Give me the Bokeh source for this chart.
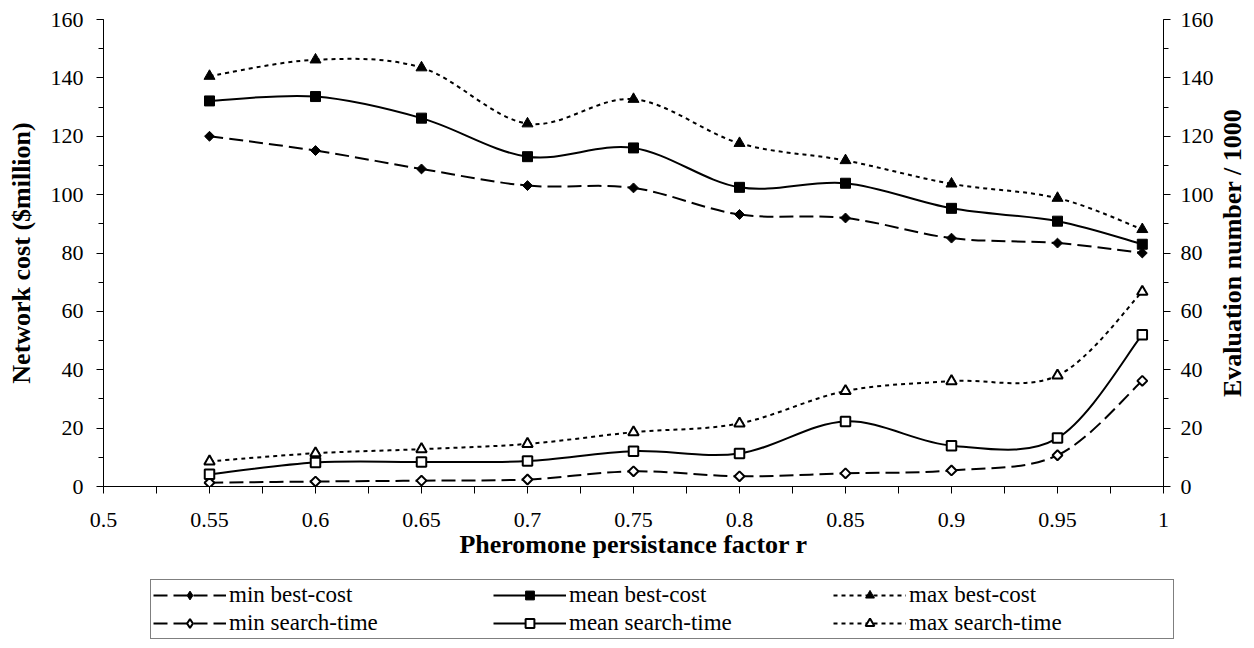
import numpy as np
from bokeh.plotting import figure
from bokeh.layouts import column, row
from bokeh.models import (LinearAxis, SingleIntervalTicker, FixedTicker, Legend, LegendItem,
                          ColumnDataSource, Range1d, Label)
from bokeh.embed import file_html
from bokeh.resources import INLINE

# ---------------- data ----------------
r_values = [0.55, 0.6, 0.65, 0.7, 0.75, 0.8, 0.85, 0.9, 0.95, 0.99]

min_best_cost = [120.0, 115.1, 108.8, 103.1, 102.3, 93.2, 92.0, 85.1, 83.4, 80.0]
mean_best_cost = [132.1, 133.6, 126.2, 113.0, 116.0, 102.5, 103.9, 95.3, 90.9, 83.0]
max_best_cost = [140.6, 146.2, 143.5, 124.3, 132.7, 117.6, 111.7, 103.7, 98.8, 88.1]

min_search_time = [1.3, 1.7, 2.0, 2.4, 5.2, 3.5, 4.5, 5.5, 10.7, 36.2]
mean_search_time = [4.2, 8.2, 8.4, 8.7, 12.1, 11.3, 22.3, 14.0, 16.6, 52.0]
max_search_time = [8.6, 11.4, 12.8, 14.6, 18.6, 21.6, 32.7, 36.1, 38.0, 66.7]

x_tick_values = [0.5, 0.55, 0.6, 0.65, 0.7, 0.75, 0.8, 0.85, 0.9, 0.95, 1.0]
x_tick_labels = ["0.5", "0.55", "0.6", "0.65", "0.7", "0.75", "0.8", "0.85", "0.9", "0.95", "1"]

series_names = ["min best-cost", "mean best-cost", "max best-cost",
                "min search-time", "mean search-time", "max search-time"]

x_title = "Pheromone persistance factor r"
y_title = "Network cost ($million)"
y2_title = "Evaluation number / 1000"

FONT = "Liberation Serif"


def smooth_segments(xs, ys):
    """Catmull-Rom style bezier control points (Excel-like smoothing)."""
    xs = np.asarray(xs, float)
    ys = np.asarray(ys, float)
    n = len(xs)
    xp = np.concatenate([[xs[0]], xs, [xs[-1]]])
    yp = np.concatenate([[ys[0]], ys, [ys[-1]]])
    d = dict(x0=[], y0=[], x1=[], y1=[], cx0=[], cy0=[], cx1=[], cy1=[])
    for i in range(n - 1):
        j = i + 1
        d["x0"].append(xp[j]); d["y0"].append(yp[j])
        d["x1"].append(xp[j + 1]); d["y1"].append(yp[j + 1])
        d["cx0"].append(xp[j] + (xp[j + 1] - xp[j - 1]) / 6.0)
        d["cy0"].append(yp[j] + (yp[j + 1] - yp[j - 1]) / 6.0)
        d["cx1"].append(xp[j + 1] - (xp[j + 2] - xp[j]) / 6.0)
        d["cy1"].append(yp[j + 1] - (yp[j + 2] - yp[j]) / 6.0)
    return ColumnDataSource(d)


def bare(fig):
    fig.outline_line_color = None
    fig.background_fill_color = "white"
    fig.border_fill_color = "white"


# ---------------- main plot ----------------
p = figure(width=1218, height=576, output_backend="svg", toolbar_location=None,
           x_range=Range1d(0.5, 1.0), y_range=Range1d(0, 160),
           min_border_left=103, min_border_right=55, min_border_top=19, min_border_bottom=90)
bare(p)
p.xgrid.grid_line_color = None
p.ygrid.grid_line_color = None


def style_axis(ax):
    ax.axis_line_color = "black"
    ax.axis_line_width = 1
    ax.major_tick_line_color = "black"
    ax.minor_tick_line_color = "black"
    ax.major_tick_in = 0
    ax.minor_tick_in = 0
    ax.major_label_text_font = FONT
    ax.major_label_text_font_size = "22px"
    ax.major_label_text_color = "black"
    ax.axis_label_text_font = FONT
    ax.axis_label_text_font_size = "26px"
    ax.axis_label_text_font_style = "bold"
    ax.axis_label_text_color = "black"


xa = p.xaxis[0]
xa.ticker = FixedTicker(ticks=x_tick_values,
                        minor_ticks=[v + 0.025 for v in x_tick_values[:-1]])
xa.major_label_overrides = {v: s for v, s in zip(x_tick_values, x_tick_labels)}
style_axis(xa)
xa.major_tick_out = 7
xa.minor_tick_out = 7
xa.major_label_standoff = 19
xa.axis_label = x_title
xa.axis_label_standoff = 0

ya = p.yaxis[0]
ya.ticker = SingleIntervalTicker(interval=20, num_minor_ticks=2)
style_axis(ya)
ya.major_tick_out = 7
ya.minor_tick_out = 5
ya.major_label_standoff = 13
ya.axis_label = y_title
ya.axis_label_standoff = 12

ra = LinearAxis(ticker=SingleIntervalTicker(interval=20, num_minor_ticks=2))
style_axis(ra)
ra.major_tick_out = 7
ra.minor_tick_out = 5
ra.major_label_standoff = 10
p.add_layout(ra, "right")

series = [min_best_cost, mean_best_cost, max_best_cost,
          min_search_time, mean_search_time, max_search_time]
dashes = ["14 6", "solid", "4 4", "14 6", "solid", "4 4"]
markers = ["diamond", "square", "triangle", "diamond", "square", "triangle"]
filled = [True, True, True, False, False, False]

# ---------------- legend figure ----------------
lf = figure(width=1254, height=72, output_backend="svg", toolbar_location=None,
            x_range=Range1d(0, 1), y_range=Range1d(0, 1),
            x_axis_type=None, y_axis_type=None, min_border=0)
bare(lf)
lf.xgrid.grid_line_color = None
lf.ygrid.grid_line_color = None

# legend proxy glyphs live outside the visible range of the legend figure
proxy_seg = dict(x0=[-2.0], y0=[-2.0], x1=[-1.5], y1=[-2.0],
                 cx0=[-1.8], cy0=[-2.0], cx1=[-1.7], cy1=[-2.0])

items = []
for name, ys, dash, mk, fl in zip(series_names, series, dashes, markers, filled):
    src = smooth_segments(r_values, ys)
    p.bezier(x0="x0", y0="y0", x1="x1", y1="y1", cx0="cx0", cy0="cy0",
             cx1="cx1", cy1="cy1", source=src, line_color="black",
             line_width=2, line_dash=dash)
    fill = "black" if fl else "white"
    lw = 1 if fl else 2
    if mk == "diamond":
        p.scatter(r_values, ys, marker="square", angle=np.pi / 4, size=7,
                  line_color="black", line_width=lw, fill_color=fill)
        lsize = 10
    elif mk == "square":
        p.scatter(r_values, ys, marker="square", size=10 if fl else 9.5,
                  line_color="black", line_width=lw, fill_color=fill)
        lsize = 8
    else:
        p.scatter(r_values, ys, marker="triangle", size=11 if fl else 10.5,
                  line_color="black", line_width=lw, fill_color=fill)
        lsize = 9
    lln = lf.bezier(x0="x0", y0="y0", x1="x1", y1="y1", cx0="cx0", cy0="cy0",
                    cx1="cx1", cy1="cy1", source=ColumnDataSource(dict(proxy_seg)),
                    line_color="black", line_width=2, line_dash=dash)
    lsc = lf.scatter(x=[-2.0], y=[-2.0], marker=mk, size=lsize, line_color="black",
                     line_width=lw, fill_color=fill)
    items.append(LegendItem(label=name, renderers=[lln, lsc]))

legend = Legend(items=items, orientation="horizontal", ncols=3,
                label_text_font=FONT, label_text_font_size="23px",
                label_text_color="black", glyph_width=73, glyph_height=22,
                label_standoff=3, label_width=262, label_height=22, spacing=2,
                padding=2, margin=0, border_line_color="black", border_line_width=1,
                background_fill_color="white", location=(150, 9))
lf.add_layout(legend, "center")

# ---------------- right axis title figure ----------------
tf = figure(width=36, height=576, output_backend="svg", toolbar_location=None,
            x_range=Range1d(0, 1), y_range=p.y_range,
            x_axis_type=None, y_axis_type=None,
            min_border_left=0, min_border_right=0, min_border_top=19, min_border_bottom=90)
bare(tf)
tf.xgrid.grid_line_color = None
tf.ygrid.grid_line_color = None
tf.add_layout(Label(x=0.38, y=80, text=y2_title, angle=np.pi / 2,
                    text_align="center", text_baseline="middle",
                    text_font=FONT, text_font_size="26px", text_font_style="bold",
                    text_color="black"))

layout = column(row(p, tf, spacing=0), lf, spacing=0)

open("out.html", "w").write(file_html(layout, INLINE))
